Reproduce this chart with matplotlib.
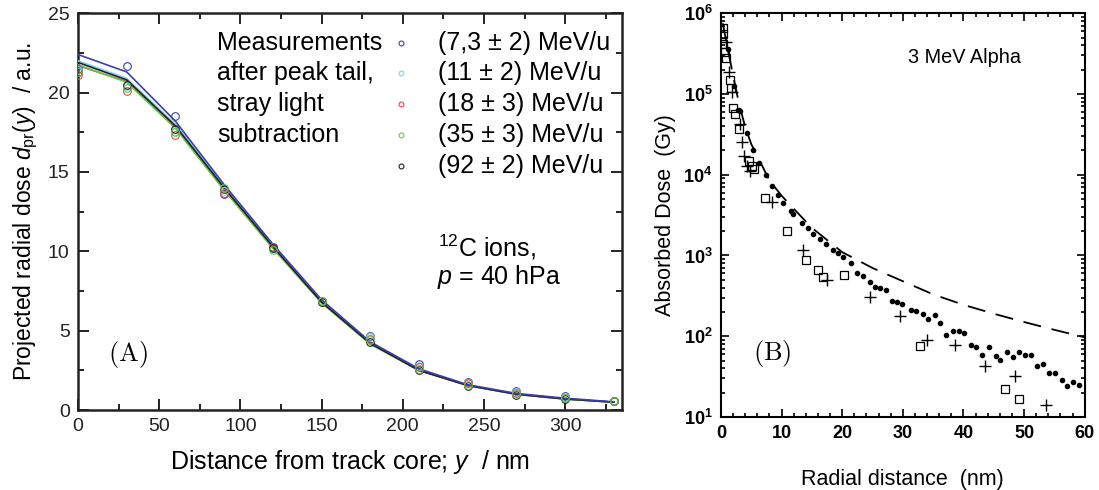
import numpy as np
import matplotlib
matplotlib.use("Agg")
import matplotlib.pyplot as plt
from matplotlib.ticker import MultipleLocator, LogLocator, NullFormatter, LogFormatterMathtext

plt.rcParams['font.family'] = ['Liberation Sans', 'DejaVu Sans']
plt.rcParams['mathtext.fontset'] = 'custom'
plt.rcParams['mathtext.rm'] = 'Liberation Sans'
plt.rcParams['mathtext.it'] = 'Liberation Sans:italic'
plt.rcParams['mathtext.bf'] = 'Liberation Sans:bold'

# ---------------- Panel A: projected radial dose ----------------
distance_nm = [0, 30, 60, 90, 120, 150, 180, 210, 240, 270, 300, 330]
energy_labels = ['(7,3 ± 2) MeV/u', '(11 ± 2) MeV/u', '(18 ± 3) MeV/u',
                 '(35 ± 3) MeV/u', '(92 ± 2) MeV/u']
series_colors = ['#3a3fb0', '#7fd6ea', '#ec4a4a', '#62c84a', '#222222']

meas_7 = [21.5, 21.7, 18.5, 13.6, 10.3, 6.9, 4.7, 2.9, 1.75, 1.2, 0.9, 0.55]
meas_11 = [21.4, 20.4, 17.6, 13.8, 10.2, 6.9, 4.6, 2.8, 1.7, 1.15, 0.85, 0.55]
meas_18 = [21.1, 20.1, 17.3, 13.7, 10.3, 6.8, 4.5, 2.7, 1.7, 1.05, 0.75, 0.55]
meas_35 = [21.3, 20.3, 17.5, 14.0, 10.1, 6.9, 4.4, 2.6, 1.6, 1.0, 0.75, 0.55]
meas_92 = [21.3, 20.5, 17.7, 13.9, 10.2, 6.8, 4.3, 2.5, 1.5, 0.95, 0.7, 0.55]

fit_7 = [22.4, 21.3, 18.2, 14.2, 10.45, 6.95, 4.3, 2.6, 1.6, 1.05, 0.75, 0.52]
fit_11 = [22.0, 20.9, 18.0, 14.1, 10.35, 6.85, 4.25, 2.55, 1.58, 1.02, 0.72, 0.5]
fit_18 = [21.7, 20.7, 17.8, 13.9, 10.2, 6.8, 4.2, 2.5, 1.55, 1.0, 0.7, 0.5]
fit_35 = [21.75, 20.65, 17.75, 13.85, 10.2, 6.75, 4.15, 2.5, 1.55, 1.0, 0.7, 0.5]
fit_92 = [21.9, 20.8, 17.9, 14.0, 10.3, 6.8, 4.2, 2.5, 1.55, 1.0, 0.7, 0.5]

measurements = [meas_7, meas_11, meas_18, meas_92, meas_35]
meas_colors = [series_colors[0], series_colors[1], series_colors[2],
               series_colors[4], series_colors[3]]

# ---------------- Panel B: absorbed dose, 3 MeV alpha ----------------
theory_r = [0.3, 1, 2, 3, 4, 5, 6, 8, 10, 12, 15, 20, 25, 30, 35, 40, 45, 50, 55, 60]
theory_dose = [7.5e5, 4.0e5, 1.7e5, 7.5e4, 3.9e4, 2.4e4, 1.7e4, 8.5e3, 5.5e3, 3.8e3,
               2.2e3, 1.1e3, 700, 480, 330, 245, 190, 150, 120, 97]

sim_r = [1.2, 2.2, 2.8, 3.2, 4.3, 5.3, 6.3, 7.4, 8.4, 9.4, 10.3, 11.5, 11.9, 13.3, 14.3,
         15.2, 16.3, 17.4, 18.5, 19.3, 20.2, 21.4, 22.4, 23.4, 24.6, 25.4, 26.3, 27.2,
         28.2, 29.1, 29.8, 31.3, 32.1, 33.3, 34.2, 35.3, 36.2, 37.2, 38.2, 39.2, 40.1,
         41.2, 42.0, 43.1, 44.2, 45.3, 46.1, 47.1, 48.2, 49.2, 50.2, 51.2, 52.1, 53.1,
         54.1, 55.1, 56.2, 57.1, 58.1, 59.1]
sim_dose = [3.6e5, 1.25e5, 6.3e4, 6.2e4, 3.3e4, 2.05e4, 1.4e4, 9.9e3, 7.2e3, 5.6e3,
            4.5e3, 3.6e3, 3.3e3, 2.5e3, 2.2e3, 1.87e3, 1.62e3, 1.38e3, 1.17e3, 1.07e3,
            960, 815, 615, 550, 470, 410, 400, 370, 275, 263, 250, 210, 205, 187, 162,
            183, 145, 103, 116, 117, 110, 78, 73, 59, 74, 57, 51, 64, 56, 63, 59, 59,
            43, 45, 35, 35, 29, 24, 27.5, 25]

square_r = [0.4, 0.4, 0.4, 0.65, 0.9, 1.5, 1.6, 2.0, 2.3, 3.0, 4.7, 5.05, 5.4, 7.25,
            10.9, 14.0, 16.0, 16.8, 20.3, 32.9, 46.8, 49.2]
square_dose = [6.5e5, 5.6e5, 4.2e5, 3.3e5, 2.8e5, 1.48e5, 1.17e5, 6.8e4, 5.7e4, 3.7e4,
               1.5e4, 1.3e4, 1.17e4, 5.2e3, 2.0e3, 890, 670, 540, 570, 76, 22, 16.5]

cross_r = [0.9, 1.4, 1.75, 3.1, 3.4, 3.85, 4.3, 4.8, 8.5, 13.6, 17.5, 24.6, 29.5, 34.0,
           38.6, 43.5, 48.5, 53.6]
cross_dose = [4.4e5, 1.86e5, 1.07e5, 4.3e4, 2.57e4, 1.7e4, 1.3e4, 1.1e4, 4.6e3, 1170,
              500, 303, 178, 91, 78, 43, 32, 14]

fig = plt.figure(figsize=(10.99, 4.90), dpi=100)

# ---- Panel A ----
axA = fig.add_axes([0.071, 0.163, 0.495, 0.810])
for fit, col in zip([fit_11, fit_18, fit_35, fit_92, fit_7],
                    [series_colors[1], series_colors[2], series_colors[3],
                     series_colors[4], series_colors[0]]):
    axA.plot(distance_nm, fit, color=col, lw=1.2, zorder=3)
for meas, col in zip(measurements, meas_colors):
    axA.plot(distance_nm, meas, ls='none', marker='o', ms=5.5, mfc='none',
             mec=col, mew=0.8, zorder=4)

axA.set_xlim(0, 335)
axA.set_ylim(0, 25)
axA.xaxis.set_major_locator(MultipleLocator(50))
axA.xaxis.set_minor_locator(MultipleLocator(25))
axA.yaxis.set_major_locator(MultipleLocator(5))
axA.yaxis.set_minor_locator(MultipleLocator(2.5))
axA.tick_params(which='both', direction='in', top=True, right=True, width=1.4,
                labelsize=14, colors='#222222', pad=6)
axA.tick_params(which='major', length=8)
axA.tick_params(which='minor', length=4.5)
for sp in axA.spines.values():
    sp.set_linewidth(1.8)
    sp.set_color('#222222')
axA.set_xlabel(r'Distance from track core; $y$  / nm', fontsize=18, labelpad=9)
axA.set_ylabel(r'Projected radial dose $d_{\mathrm{pr}}(y)$  / a.u.', fontsize=16.5,
               labelpad=6)

text_block = ['Measurements', 'after peak tail,', 'stray light', 'subtraction']
row_y = [0.924, 0.849, 0.771, 0.693, 0.615]
for t, yy in zip(text_block, row_y):
    axA.text(0.2555, yy, t, transform=axA.transAxes, fontsize=18, va='center')
for lab, col, yy in zip(energy_labels, series_colors, row_y):
    axA.plot([0.594], [yy], transform=axA.transAxes, marker='o', ms=3.5,
             mfc='none', mec=col, mew=0.8, ls='none')
    axA.text(0.662, yy, lab, transform=axA.transAxes, fontsize=18, va='center')
axA.text(0.662, 0.41, r'$^{12}$C ions,', transform=axA.transAxes, fontsize=18,
         va='center')
axA.text(0.659, 0.335, r'$p$ = 40 hPa', transform=axA.transAxes, fontsize=18,
         va='center')
tA = axA.text(0.055, 0.139, r'$\mathrm{(A)}$', transform=axA.transAxes,
              fontsize=19, va='center')
tA.set_math_fontfamily('cm')

# ---- Panel B ----
axB = fig.add_axes([0.656, 0.149, 0.331, 0.824])
axB.plot(theory_r, theory_dose, color='black', lw=1.3, dashes=(10, 6), zorder=2)
axB.plot(sim_r, sim_dose, ls='none', marker='o', ms=3.0, color='black', zorder=3)
axB.plot(square_r, square_dose, ls='none', marker='s', ms=5.5, mfc='none',
         mec='black', mew=0.9, zorder=3)
axB.plot(cross_r, cross_dose, ls='none', marker='+', ms=8, color='black',
         mew=1.0, zorder=3)

axB.set_yscale('log')
axB.set_xlim(0, 60)
axB.set_ylim(10, 1e6)
axB.xaxis.set_major_locator(MultipleLocator(10))
axB.xaxis.set_minor_locator(MultipleLocator(2))
axB.yaxis.set_major_locator(LogLocator(base=10, numticks=10))
axB.yaxis.set_minor_locator(LogLocator(base=10, subs=np.arange(2, 10), numticks=20))
axB.yaxis.set_minor_formatter(NullFormatter())
axB.yaxis.set_major_formatter(LogFormatterMathtext())
axB.tick_params(which='both', direction='in', top=True, right=True, width=1.2,
                labelsize=13, pad=6)
axB.tick_params(which='major', length=6)
axB.tick_params(which='minor', length=3)
for sp in axB.spines.values():
    sp.set_linewidth(1.5)
for lab in axB.get_xticklabels() + axB.get_yticklabels():
    lab.set_fontweight('bold')
axB.set_xlabel('Radial distance  (nm)', fontsize=15.5, labelpad=19)
axB.set_ylabel('Absorbed Dose  (Gy)', fontsize=15.5, labelpad=5)
axB.text(0.514, 0.891, '3 MeV Alpha', transform=axB.transAxes, fontsize=14.3,
         va='center')
tB = axB.text(0.088, 0.158, r'$\mathrm{(B)}$', transform=axB.transAxes,
              fontsize=19, va='center')
tB.set_math_fontfamily('cm')

fig.savefig('out.png', dpi=100)
